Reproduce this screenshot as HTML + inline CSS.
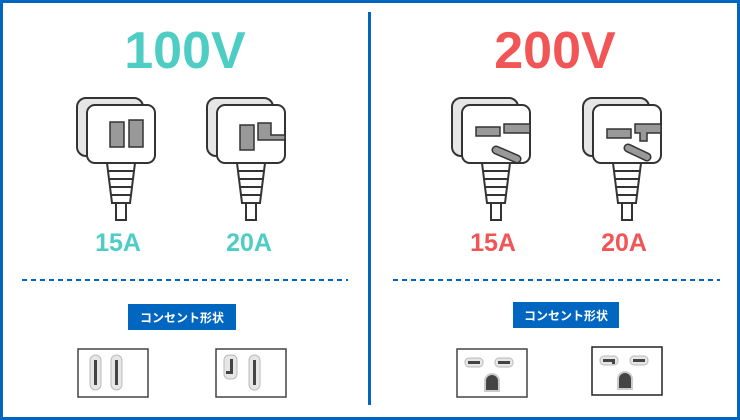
<!DOCTYPE html>
<html><head><meta charset="utf-8"><style>
body{margin:0;background:#fff}
svg{display:block}
text{font-family:"Liberation Sans","Noto Sans CJK JP",sans-serif;font-weight:bold}
</style></head><body>
<svg width="740" height="420" viewBox="0 0 740 420" xmlns="http://www.w3.org/2000/svg">
<defs>
<g id="body">
  <rect x="0" y="3" width="66" height="58" rx="9" fill="#e6e6e6" stroke="#333" stroke-width="2"/>
  <rect x="10" y="10" width="68" height="58" rx="8" fill="#fff" stroke="#333" stroke-width="2"/>
  <path d="M30 68 L58 68 L53 108 L35 108 Z" fill="#fff" stroke="#333" stroke-width="2"/>
  <path d="M31 76 H57 M32 84 H56 M33 92 H55 M34 100 H54" stroke="#333" stroke-width="2"/>
  <rect x="39" y="108" width="10" height="17" fill="#fff" stroke="#333" stroke-width="2"/>
</g>
<g id="outlet2">
  <rect x="0" y="0" width="70" height="48" fill="#fff" stroke="#444" stroke-width="1.5"/>
</g>
</defs>
<rect x="1.5" y="1.5" width="737" height="417" fill="none" stroke="#0066c0" stroke-width="3"/>
<rect x="368" y="12" width="3" height="393" fill="#0066c0"/>

<text x="185" y="68" text-anchor="middle" font-size="52" fill="#4ecdc4">100V</text>
<text x="555" y="68" text-anchor="middle" font-size="52" fill="#f25555">200V</text>

<!-- 100V 15A -->
<g transform="translate(77,95)">
  <use href="#body"/>
  <rect x="33" y="27" width="14" height="25" fill="#999" stroke="#333" stroke-width="1.5"/>
  <rect x="52" y="25" width="14" height="27" fill="#999" stroke="#333" stroke-width="1.5"/>
</g>
<!-- 100V 20A -->
<g transform="translate(207,95)">
  <use href="#body"/>
  <rect x="33" y="30" width="14" height="25" fill="#999" stroke="#333" stroke-width="1.5"/>
  <path d="M51 28 H64 V40 H78 V45 H51 Z" fill="#999" stroke="#333" stroke-width="1.5"/>
</g>
<!-- 200V 15A -->
<g transform="translate(452,95)">
  <use href="#body"/>
  <path d="M24 32 H48 V41 H24 Z" fill="#999" stroke="#333" stroke-width="1.5"/>
  <path d="M52 29 H78 V38 H52 Z" fill="#999" stroke="#333" stroke-width="1.5"/>
  <line x1="44" y1="55" x2="65" y2="64" stroke="#333" stroke-width="9" stroke-linecap="round"/>
  <line x1="44" y1="55" x2="65" y2="64" stroke="#999" stroke-width="6" stroke-linecap="round"/>
</g>
<!-- 200V 20A -->
<g transform="translate(583,95)">
  <use href="#body"/>
  <path d="M24 34 H48 V43 H24 Z" fill="#999" stroke="#333" stroke-width="1.5"/>
  <path d="M52 29 H78 V38 H64 V46 H57 V38 H52 Z" fill="#999" stroke="#333" stroke-width="1.5"/>
  <line x1="45" y1="53" x2="64" y2="62" stroke="#333" stroke-width="9" stroke-linecap="round"/>
  <line x1="45" y1="53" x2="64" y2="62" stroke="#999" stroke-width="6" stroke-linecap="round"/>
</g>

<text x="118" y="251" text-anchor="middle" font-size="25" fill="#4ecdc4">15A</text>
<text x="249" y="251" text-anchor="middle" font-size="25" fill="#4ecdc4">20A</text>
<text x="493" y="251" text-anchor="middle" font-size="25" fill="#f25555">15A</text>
<text x="624" y="251" text-anchor="middle" font-size="25" fill="#f25555">20A</text>

<line x1="22" y1="280" x2="348" y2="280" stroke="#0066c0" stroke-width="2" stroke-dasharray="5,4"/>
<line x1="393" y1="280" x2="720" y2="280" stroke="#0066c0" stroke-width="2" stroke-dasharray="5,4"/>

<rect x="128" y="304" width="108" height="26" fill="#0066c0"/>
<text x="182" y="322" text-anchor="middle" font-size="12" fill="#fff">コンセント形状</text>
<rect x="513" y="302" width="106" height="26" fill="#0066c0"/>
<text x="566" y="320" text-anchor="middle" font-size="12" fill="#fff">コンセント形状</text>

<!-- outlets -->
<g transform="translate(78,349)">
  <use href="#outlet2"/>
  <rect x="12" y="6" width="11" height="35" rx="5.5" fill="#e6e6e6" stroke="#bbb"/>
  <rect x="16" y="11" width="3" height="25" fill="#444"/>
  <rect x="33" y="6" width="11" height="35" rx="5.5" fill="#e6e6e6" stroke="#bbb"/>
  <rect x="37" y="11" width="3" height="25" fill="#444"/>
</g>
<g transform="translate(216,349)">
  <use href="#outlet2"/>
  <rect x="8" y="6" width="13" height="24" rx="5" fill="#e6e6e6" stroke="#bbb"/>
  <path d="M14 10 H17 V25 H10 V22 H14 Z" fill="#444"/>
  <rect x="33" y="6" width="11" height="35" rx="5.5" fill="#e6e6e6" stroke="#bbb"/>
  <rect x="37" y="11" width="3" height="25" fill="#444"/>
</g>
<g transform="translate(457,349)">
  <rect width="70" height="48" fill="#fff" stroke="#444" stroke-width="1.5"/>
  <rect x="8" y="9" width="18" height="9" rx="4" fill="#e6e6e6" stroke="#bbb"/>
  <rect x="11" y="12" width="12" height="3" fill="#444"/>
  <rect x="38" y="9" width="18" height="9" rx="4" fill="#e6e6e6" stroke="#bbb"/>
  <rect x="41" y="12" width="12" height="3" fill="#444"/>
  <path d="M28 42 V32 A7 7 0 0 1 42 32 V42 Z" fill="#444" stroke="#ccc" stroke-width="2"/>
</g>
<g transform="translate(592,347)">
  <rect width="70" height="48" fill="#fff" stroke="#222" stroke-width="1.5"/>
  <rect x="8" y="9" width="18" height="9" rx="4" fill="#e6e6e6" stroke="#bbb"/>
  <path d="M11 12 H23 V17 H20 V15 H11 Z" fill="#444"/>
  <rect x="38" y="9" width="18" height="9" rx="4" fill="#e6e6e6" stroke="#bbb"/>
  <rect x="41" y="12" width="12" height="3" fill="#444"/>
  <path d="M26 42 V32 A7 7 0 0 1 40 32 V42 Z" fill="#444" stroke="#ccc" stroke-width="2"/>
</g>
</svg>
</body></html>
